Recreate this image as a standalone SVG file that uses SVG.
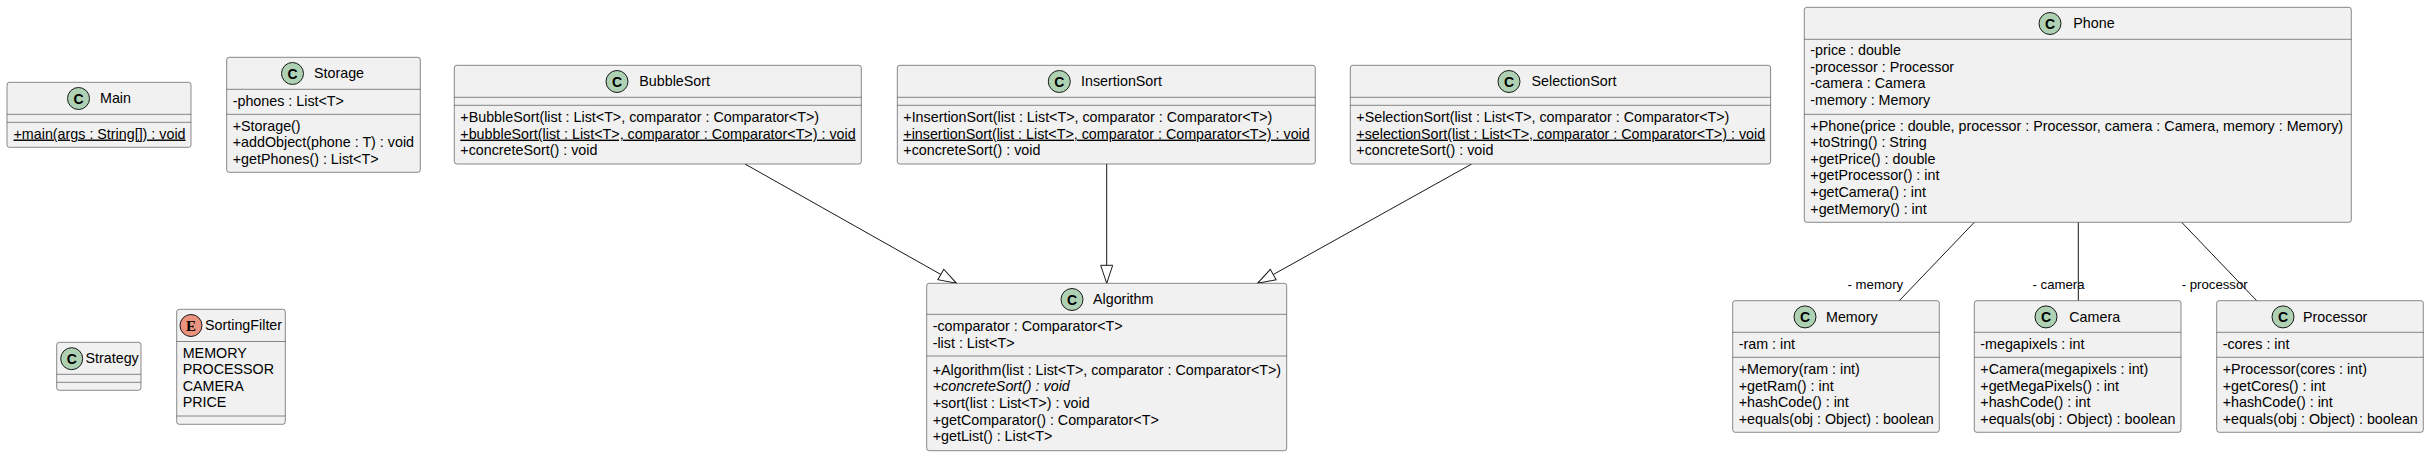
<svg xmlns="http://www.w3.org/2000/svg" width="2429" height="456" viewBox="0 0 2429 456">
<style>
.box{fill:#F1F1F1;stroke:#181818;stroke-width:0.5}
.sep{stroke:#181818;stroke-width:0.5}
.cc{fill:#ADD1B2;stroke:#181818;stroke-width:1}
.ce{fill:#EB937F;stroke:#181818;stroke-width:1}
.cl{font-family:"Liberation Sans",Arial,sans-serif;font-size:14px;font-weight:bold;fill:#000;text-anchor:middle}
.el{font-family:"Liberation Serif","Times New Roman",serif;font-size:15px;font-weight:bold;fill:#000;text-anchor:middle}
.t{font-family:"Liberation Sans",Arial,sans-serif;font-size:14.3px;fill:#000}
.u{text-decoration:underline}
.i{font-style:italic}
.lbl{font-family:"Liberation Sans",Arial,sans-serif;font-size:13.2px;fill:#000}
.ln{stroke:#181818;stroke-width:1;fill:none}
</style>
<defs>
<marker id="ext" markerUnits="userSpaceOnUse" markerWidth="20" markerHeight="14" refX="19" refY="7" orient="auto" viewBox="0 0 20 14">
<path d="M1,1 L19,7 L1,13 Z" fill="#FFFFFF" stroke="#181818" stroke-width="1"/>
</marker>
</defs>

<g id="connectors">
<line class="ln" x1="745" y1="164" x2="956.5" y2="283.3" marker-end="url(#ext)"/>
<line class="ln" x1="1106.7" y1="164" x2="1106.7" y2="283.3" marker-end="url(#ext)"/>
<line class="ln" x1="1471.7" y1="164" x2="1257.5" y2="283.3" marker-end="url(#ext)"/>
<line class="ln" x1="1974.3" y1="222.3" x2="1899.3" y2="300.7"/>
<text class="lbl" x="1847.5" y="289">- memory</text>
<line class="ln" x1="2078.3" y1="222.3" x2="2078.3" y2="300.7"/>
<text class="lbl" x="2032.5" y="289">- camera</text>
<line class="ln" x1="2181.7" y1="222.3" x2="2256.7" y2="300.7"/>
<text class="lbl" x="2181.7" y="289">- processor</text>
</g>

<g id="Main">
<rect class="box" x="7" y="82.3" width="184" height="65" rx="2.5"/>
<circle class="cc" cx="78.5" cy="98.5" r="11"/>
<text class="cl" x="78.5" y="103.5">C</text>
<text class="t" x="100" y="103.3">Main</text>
<line class="sep" x1="7" y1="114.3" x2="191" y2="114.3"/>
<line class="sep" x1="7" y1="122.3" x2="191" y2="122.3"/>
<text class="t u" x="13.5" y="138.5">+main(args : String[]) : void</text>
</g>

<g id="Storage">
<rect class="box" x="226.7" y="57.3" width="193.6" height="115" rx="2.5"/>
<circle class="cc" cx="292.5" cy="73.5" r="11"/>
<text class="cl" x="292.5" y="78.5">C</text>
<text class="t" x="314" y="78.3">Storage</text>
<line class="sep" x1="226.7" y1="89.3" x2="420.3" y2="89.3"/>
<text class="t" x="232.7" y="105.5">-phones : List&lt;T&gt;</text>
<line class="sep" x1="226.7" y1="114.3" x2="420.3" y2="114.3"/>
<text class="t" x="232.7" y="130.5">+Storage()</text>
<text class="t" x="232.7" y="147.1">+addObject(phone : T) : void</text>
<text class="t" x="232.7" y="163.7">+getPhones() : List&lt;T&gt;</text>
</g>

<g id="BubbleSort">
<rect class="box" x="454.3" y="65.3" width="407" height="98.7" rx="2.5"/>
<circle class="cc" cx="617" cy="81.5" r="11"/>
<text class="cl" x="617" y="86.5">C</text>
<text class="t" x="639.3" y="86.3">BubbleSort</text>
<line class="sep" x1="454.3" y1="97.3" x2="861.3" y2="97.3"/>
<line class="sep" x1="454.3" y1="105.3" x2="861.3" y2="105.3"/>
<text class="t" x="460.3" y="122">+BubbleSort(list : List&lt;T&gt;, comparator : Comparator&lt;T&gt;)</text>
<text class="t u" x="460.3" y="138.6">+bubbleSort(list : List&lt;T&gt;, comparator : Comparator&lt;T&gt;) : void</text>
<text class="t" x="460.3" y="155.2">+concreteSort() : void</text>
</g>

<g id="InsertionSort">
<rect class="box" x="897.3" y="65.3" width="418" height="98.7" rx="2.5"/>
<circle class="cc" cx="1059.3" cy="81.5" r="11"/>
<text class="cl" x="1059.3" y="86.5">C</text>
<text class="t" x="1081" y="86.3">InsertionSort</text>
<line class="sep" x1="897.3" y1="97.3" x2="1315.3" y2="97.3"/>
<line class="sep" x1="897.3" y1="105.3" x2="1315.3" y2="105.3"/>
<text class="t" x="903.3" y="122">+InsertionSort(list : List&lt;T&gt;, comparator : Comparator&lt;T&gt;)</text>
<text class="t u" x="903.3" y="138.6">+insertionSort(list : List&lt;T&gt;, comparator : Comparator&lt;T&gt;) : void</text>
<text class="t" x="903.3" y="155.2">+concreteSort() : void</text>
</g>

<g id="SelectionSort">
<rect class="box" x="1350.3" y="65.3" width="420.3" height="98.7" rx="2.5"/>
<circle class="cc" cx="1509" cy="81.5" r="11"/>
<text class="cl" x="1509" y="86.5">C</text>
<text class="t" x="1531.5" y="86.3">SelectionSort</text>
<line class="sep" x1="1350.3" y1="97.3" x2="1770.6" y2="97.3"/>
<line class="sep" x1="1350.3" y1="105.3" x2="1770.6" y2="105.3"/>
<text class="t" x="1356.3" y="122">+SelectionSort(list : List&lt;T&gt;, comparator : Comparator&lt;T&gt;)</text>
<text class="t u" x="1356.3" y="138.6">+selectionSort(list : List&lt;T&gt;, comparator : Comparator&lt;T&gt;) : void</text>
<text class="t" x="1356.3" y="155.2">+concreteSort() : void</text>
</g>

<g id="Phone">
<rect class="box" x="1804.3" y="7.3" width="547" height="215" rx="2.5"/>
<circle class="cc" cx="2050" cy="23.5" r="11"/>
<text class="cl" x="2050" y="28.5">C</text>
<text class="t" x="2073.3" y="28.3">Phone</text>
<line class="sep" x1="1804.3" y1="39.3" x2="2351.3" y2="39.3"/>
<text class="t" x="1810.3" y="55">-price : double</text>
<text class="t" x="1810.3" y="71.6">-processor : Processor</text>
<text class="t" x="1810.3" y="88.2">-camera : Camera</text>
<text class="t" x="1810.3" y="104.8">-memory : Memory</text>
<line class="sep" x1="1804.3" y1="114.3" x2="2351.3" y2="114.3"/>
<text class="t" x="1810.3" y="130.5">+Phone(price : double, processor : Processor, camera : Camera, memory : Memory)</text>
<text class="t" x="1810.3" y="147.1">+toString() : String</text>
<text class="t" x="1810.3" y="163.7">+getPrice() : double</text>
<text class="t" x="1810.3" y="180.3">+getProcessor() : int</text>
<text class="t" x="1810.3" y="196.9">+getCamera() : int</text>
<text class="t" x="1810.3" y="213.5">+getMemory() : int</text>
</g>

<g id="Algorithm">
<rect class="box" x="926.7" y="283.3" width="360" height="167.4" rx="2.5"/>
<circle class="cc" cx="1072" cy="299.5" r="11"/>
<text class="cl" x="1072" y="304.5">C</text>
<text class="t" x="1093" y="304.3">Algorithm</text>
<line class="sep" x1="926.7" y1="314.3" x2="1286.7" y2="314.3"/>
<text class="t" x="932.7" y="331">-comparator : Comparator&lt;T&gt;</text>
<text class="t" x="932.7" y="347.7">-list : List&lt;T&gt;</text>
<line class="sep" x1="926.7" y1="356" x2="1286.7" y2="356"/>
<text class="t" x="932.7" y="374.5">+Algorithm(list : List&lt;T&gt;, comparator : Comparator&lt;T&gt;)</text>
<text class="t i" x="932.7" y="391.2">+concreteSort() : void</text>
<text class="t" x="932.7" y="407.9">+sort(list : List&lt;T&gt;) : void</text>
<text class="t" x="932.7" y="424.6">+getComparator() : Comparator&lt;T&gt;</text>
<text class="t" x="932.7" y="441.3">+getList() : List&lt;T&gt;</text>
</g>

<g id="Memory">
<rect class="box" x="1732.7" y="300.7" width="206.6" height="131.6" rx="2.5"/>
<circle class="cc" cx="1805" cy="316.9" r="11"/>
<text class="cl" x="1805" y="321.9">C</text>
<text class="t" x="1826" y="321.6">Memory</text>
<line class="sep" x1="1732.7" y1="332.3" x2="1939.3" y2="332.3"/>
<text class="t" x="1738.7" y="348.8">-ram : int</text>
<line class="sep" x1="1732.7" y1="357.3" x2="1939.3" y2="357.3"/>
<text class="t" x="1738.7" y="374">+Memory(ram : int)</text>
<text class="t" x="1738.7" y="390.6">+getRam() : int</text>
<text class="t" x="1738.7" y="407.2">+hashCode() : int</text>
<text class="t" x="1738.7" y="423.8">+equals(obj : Object) : boolean</text>
</g>

<g id="Camera">
<rect class="box" x="1974.3" y="300.7" width="206.7" height="131.6" rx="2.5"/>
<circle class="cc" cx="2046" cy="316.9" r="11"/>
<text class="cl" x="2046" y="321.9">C</text>
<text class="t" x="2069.3" y="321.6">Camera</text>
<line class="sep" x1="1974.3" y1="332.3" x2="2181" y2="332.3"/>
<text class="t" x="1980.3" y="348.8">-megapixels : int</text>
<line class="sep" x1="1974.3" y1="357.3" x2="2181" y2="357.3"/>
<text class="t" x="1980.3" y="374">+Camera(megapixels : int)</text>
<text class="t" x="1980.3" y="390.6">+getMegaPixels() : int</text>
<text class="t" x="1980.3" y="407.2">+hashCode() : int</text>
<text class="t" x="1980.3" y="423.8">+equals(obj : Object) : boolean</text>
</g>

<g id="Processor">
<rect class="box" x="2216.7" y="300.7" width="206.6" height="131.6" rx="2.5"/>
<circle class="cc" cx="2283" cy="316.9" r="11"/>
<text class="cl" x="2283" y="321.9">C</text>
<text class="t" x="2303" y="321.6">Processor</text>
<line class="sep" x1="2216.7" y1="332.3" x2="2423.3" y2="332.3"/>
<text class="t" x="2222.7" y="348.8">-cores : int</text>
<line class="sep" x1="2216.7" y1="357.3" x2="2423.3" y2="357.3"/>
<text class="t" x="2222.7" y="374">+Processor(cores : int)</text>
<text class="t" x="2222.7" y="390.6">+getCores() : int</text>
<text class="t" x="2222.7" y="407.2">+hashCode() : int</text>
<text class="t" x="2222.7" y="423.8">+equals(obj : Object) : boolean</text>
</g>

<g id="Strategy">
<rect class="box" x="56.7" y="342.3" width="84.3" height="48" rx="2.5"/>
<circle class="cc" cx="71.7" cy="358.7" r="11"/>
<text class="cl" x="71.7" y="363.7">C</text>
<text class="t" x="85.5" y="363.4">Strategy</text>
<line class="sep" x1="56.7" y1="374.3" x2="141" y2="374.3"/>
<line class="sep" x1="56.7" y1="382.3" x2="141" y2="382.3"/>
</g>

<g id="SortingFilter">
<rect class="box" x="176.7" y="309.3" width="108.6" height="115" rx="2.5"/>
<circle class="ce" cx="191" cy="325.5" r="11"/>
<text class="el" x="191" y="330.6">E</text>
<text class="t" x="205" y="330.3">SortingFilter</text>
<line class="sep" x1="176.7" y1="341.5" x2="285.3" y2="341.5"/>
<text class="t" x="182.7" y="357.5">MEMORY</text>
<text class="t" x="182.7" y="374.1">PROCESSOR</text>
<text class="t" x="182.7" y="390.7">CAMERA</text>
<text class="t" x="182.7" y="407.3">PRICE</text>
<line class="sep" x1="176.7" y1="416" x2="285.3" y2="416"/>
</g>
</svg>
